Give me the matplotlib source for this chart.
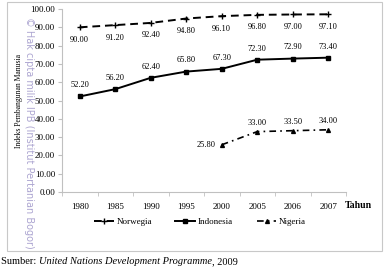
import matplotlib
matplotlib.use("Agg")
import matplotlib.pyplot as plt
from matplotlib.patches import Rectangle
from matplotlib.ticker import FixedLocator, FormatStrFormatter

years = ["1980", "1985", "1990", "1995", "2000", "2005", "2006", "2007"]
norwegia = [90.00, 91.20, 92.40, 94.80, 96.10, 96.80, 97.00, 97.10]
indonesia = [52.20, 56.20, 62.40, 65.80, 67.30, 72.30, 72.90, 73.40]
nigeria_years = ["2000", "2005", "2006", "2007"]
nigeria = [25.80, 33.00, 33.50, 34.00]
yticks = [0, 10, 20, 30, 40, 50, 60, 70, 80, 90, 100]

plt.rcParams['font.family'] = ['Liberation Serif', 'DejaVu Serif']
fs = 6.5

fig = plt.figure(figsize=(3.88, 2.70), dpi=100)
fig.patch.set_facecolor('white')

# outer border box
fig.patches.append(Rectangle((7/388, 1-251/270), (382-7)/388, (251-2)/270,
                             transform=fig.transFigure, fill=False,
                             edgecolor='#c8c8c8', linewidth=0.8))

ax = fig.add_axes([62/388, 1-192/270, 284/388, 183/270])
x = list(range(len(years)))
xn = [years.index(y) for y in nigeria_years]

ax.plot(x, norwegia, linestyle=(0, (4, 2.5)), color='black', linewidth=1.4,
        marker='+', markersize=4, markeredgewidth=1.0, label='Norwegia')
ax.plot(x, indonesia, linestyle='-', color='black', linewidth=1.4,
        marker='s', markersize=2.8, label='Indonesia')
ax.plot(xn, nigeria, linestyle=(0, (4, 2.5, 1, 2.5)), color='black', linewidth=1.2,
        marker='^', markersize=2.8, label='Nigeria')

for xi, v in zip(x, norwegia):
    ax.annotate(f"{v:.2f}", (xi, v), xytext=(0, -9), textcoords='offset points',
                ha='center', va='center', fontsize=fs - 0.5)
for xi, v in zip(x, indonesia):
    ax.annotate(f"{v:.2f}", (xi, v), xytext=(0, 8), textcoords='offset points',
                ha='center', va='center', fontsize=fs - 0.5)
for i, (xi, v) in enumerate(zip(xn, nigeria)):
    if i == 0:
        ax.annotate(f"{v:.2f}", (xi, v), xytext=(-11, 0), textcoords='offset points',
                    ha='center', va='center', fontsize=fs - 0.5)
    else:
        ax.annotate(f"{v:.2f}", (xi, v), xytext=(0, 6), textcoords='offset points',
                    ha='center', va='center', fontsize=fs - 0.5)

ax.set_xlim(-0.5, len(years) - 0.5)
ax.set_ylim(0, 100)
ax.set_yticks(yticks)
ax.yaxis.set_major_formatter(FormatStrFormatter('%.2f'))
ax.set_xticks(x)
ax.set_xticklabels(years)
ax.xaxis.set_minor_locator(FixedLocator([i - 0.5 for i in range(len(years) + 1)]))
ax.tick_params(axis='x', which='major', length=0, pad=8, labelsize=fs)
ax.tick_params(axis='x', which='minor', length=3, color='#c0c0c0', direction='out')
ax.tick_params(axis='y', which='major', length=3, color='#c0c0c0', labelsize=fs, pad=2)
for s in ['top', 'right']:
    ax.spines[s].set_visible(False)
for s in ['left', 'bottom']:
    ax.spines[s].set_color('#c0c0c0')
    ax.spines[s].set_linewidth(0.8)

ax.set_ylabel("Indeks Pembangunan Manusia", fontsize=fs - 1, labelpad=5)

fig.text(358/388, 1-206/270, "Tahun", fontsize=fs + 0.5, fontweight='bold',
         ha='center', va='center')

fig.legend(loc='center', bbox_to_anchor=(200/388, 1-222/270), ncol=3,
           frameon=False, fontsize=fs, handlelength=2.2, handletextpad=0.3,
           columnspacing=2.6)

# watermark
fig.text(29/388, 1-133/270, "\u00a9 Hak cipta milik IPB (Institut Pertanian Bogor)",
         rotation=-90, color='#a49ccc', fontsize=7.0, family='DejaVu Sans',
         ha='center', va='center', alpha=0.9)

# source caption
t1 = fig.text(1/388, 1-262/270, "Sumber: ", fontsize=7.5, ha='left', va='center')
t2 = fig.add_artist(plt.Annotation("United Nations Development Programme",
                                   xy=(1, 0.5), xycoords=t1, ha='left', va='center',
                                   fontsize=7.5, style='italic'))
t3 = fig.add_artist(plt.Annotation(", 2009", xy=(1, 0.5), xycoords=t2,
                                   ha='left', va='center', fontsize=7.5))

fig.savefig("out.png", dpi=100)
